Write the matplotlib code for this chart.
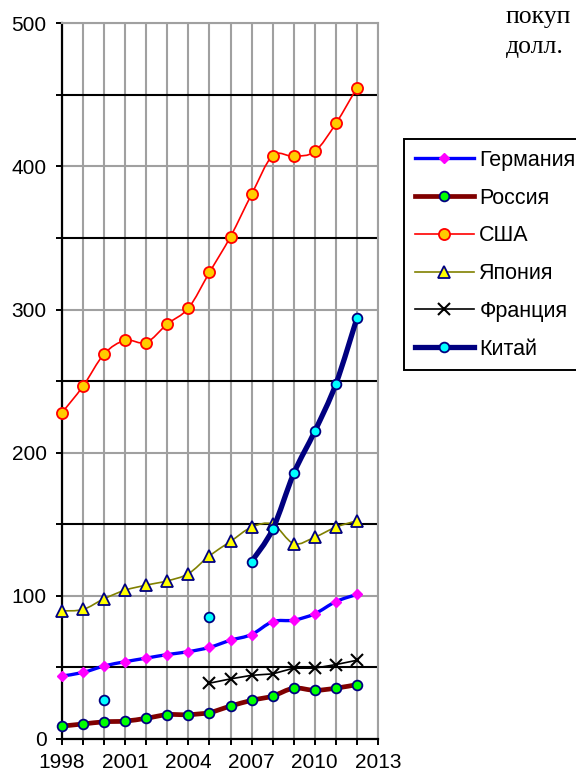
import numpy as np
import matplotlib
matplotlib.use("Agg")
import matplotlib.pyplot as plt
from matplotlib.path import Path
from matplotlib.patches import PathPatch
from matplotlib.lines import Line2D

nan = np.nan
years = list(range(1998, 2013))
germany = [44, 46.5, 51, 54, 56.5, 59, 61, 64, 69, 73, 82, 83, 87.5, 96, 101]
russia = [9, 10.5, 12, 12.5, 14.5, 17, 17, 18.5, 23, 27, 30, 35.5, 34, 35.5, 38]
usa = [228, 246.5, 269, 278.5, 277, 290, 301, 326, 351, 380.5, 407.5, 407, 410.5, 430, 455]
japan = [89.5, 90.5, 98, 104, 107.5, 110.5, 115.5, 128, 138, 148, 150, 136.5, 141, 148, 152.5]
france = [nan, nan, nan, nan, nan, nan, nan, 39, 42, 44.5, 45.5, 49.5, 49.5, 52, 55]
china = [nan, nan, 27, nan, nan, nan, nan, 85, nan, 124, 146.5, 185.5, 215, 248, 294]

labels = ["Германия", "Россия", "США", "Япония", "Франция", "Китай"]
xticks_major = [1998, 2001, 2004, 2007, 2010, 2013]
yticks_major = [0, 100, 200, 300, 400, 500]
yticks_minor = [50, 150, 250, 350, 450]

plt.rcParams['font.family'] = ['Liberation Sans', 'DejaVu Sans']

fig = plt.figure(figsize=(5.76, 7.74), dpi=100)
ax = fig.add_axes([62/576, 1-739/774, (378-62)/576, (739-23.3)/774])

gray = '#a0a0a0'


def smooth_runs(xs, ys):
    """Excel-style smoothed line: cubic Bezier segments through the data points."""
    xs = np.asarray(xs, float)
    ys = np.asarray(ys, float)
    ok = ~np.isnan(ys)
    paths = []
    i = 0
    n = len(xs)
    while i < n:
        if not ok[i]:
            i += 1
            continue
        j = i
        while j + 1 < n and ok[j + 1]:
            j += 1
        if j > i:
            pts = np.column_stack([xs[i:j + 1], ys[i:j + 1]])
            m = len(pts)
            verts = [pts[0]]
            codes = [Path.MOVETO]
            for k in range(m - 1):
                p0 = pts[k - 1] if k > 0 else pts[k]
                p1 = pts[k]
                p2 = pts[k + 1]
                p3 = pts[k + 2] if k + 2 < m else pts[k + 1]
                verts += [p1 + (p2 - p0) / 6.0, p2 - (p3 - p1) / 6.0, p2]
                codes += [Path.CURVE4] * 3
            paths.append(Path(verts, codes))
        i = j + 1
    return paths


styles = [
    (germany, dict(color='#0000ff', lw=2.4, marker='D', ms=5.5, mfc='#ff00ff', mec='#ff00ff', mew=1.0), True),
    (russia, dict(color='#800000', lw=3.4, marker='o', ms=7, mfc='#00ff00', mec='#000080', mew=1.3), True),
    (usa, dict(color='#ff0000', lw=1.2, marker='o', ms=8, mfc='#ffcc00', mec='#ff0000', mew=1.3), True),
    (japan, dict(color='#808000', lw=1.2, marker='^', ms=8.5, mfc='#ffff00', mec='#000080', mew=1.3), True),
    (france, dict(color='black', lw=1.2, marker='x', ms=8, mfc='black', mec='black', mew=1.5), False),
    (china, dict(color='#000080', lw=3.8, marker='o', ms=7, mfc='#00ffff', mec='#000080', mew=1.3), True),
]

handles = []
for idx, (vals, st, smooth) in enumerate(styles):
    z = 3 + 2 * idx
    if smooth:
        for p in smooth_runs(years, vals):
            ax.add_patch(PathPatch(p, facecolor='none', edgecolor=st['color'], lw=st['lw'],
                                   capstyle='round', joinstyle='round', zorder=z))
        ax.plot(years, vals, ls='none', marker=st['marker'], ms=st['ms'], mfc=st['mfc'],
                mec=st['mec'], mew=st['mew'], clip_on=False, zorder=z + 1)
    else:
        ax.plot(years, vals, color=st['color'], lw=st['lw'], marker=st['marker'], ms=st['ms'],
                mfc=st['mfc'], mec=st['mec'], mew=st['mew'], clip_on=False, zorder=z + 1)
    handles.append(Line2D([], [], color=st['color'], lw=st['lw'], marker=st['marker'], ms=st['ms'],
                          mfc=st['mfc'], mec=st['mec'], mew=st['mew']))

ax.set_xlim(1998, 2013)
ax.set_ylim(0, 500)
ax.set_xticks(xticks_major)
ax.set_xticks(years + [2013], minor=True)
ax.set_yticks(yticks_major)
ax.set_yticks(yticks_minor, minor=True)
ax.tick_params(axis='both', which='both', direction='out', length=4, width=1.4,
               colors='black', labelsize=15)
ax.tick_params(axis='x', which='major', pad=6)
ax.tick_params(axis='y', which='major', pad=7)

ax.set_axisbelow(True)
ax.grid(axis='x', which='both', color=gray, lw=1.5)
ax.grid(axis='y', which='major', color=gray, lw=1.5)
ax.grid(axis='y', which='minor', color='black', lw=1.5)

for s in ['left', 'bottom']:
    ax.spines[s].set_color('black')
    ax.spines[s].set_linewidth(1.6)
for s in ['top', 'right']:
    ax.spines[s].set_color(gray)
    ax.spines[s].set_linewidth(1.5)

leg = ax.legend(handles=handles, labels=labels, loc='upper left',
                bbox_to_anchor=(404/576, 1-139/774),
                bbox_transform=fig.transFigure, frameon=True, fancybox=False,
                edgecolor='black', framealpha=1, borderpad=0.5, labelspacing=0.78,
                handlelength=2.75, handletextpad=0.25, borderaxespad=0, fontsize=15.5,
                numpoints=1)
leg.get_frame().set_linewidth(1.4)

fig.text(506/576, 1-22.8/774, 'покуп', family='Liberation Serif', fontsize=18.5, va='baseline')
fig.text(506/576, 1-52.8/774, 'долл.', family='Liberation Serif', fontsize=18.5, va='baseline')

fig.savefig('out.png', dpi=100)
